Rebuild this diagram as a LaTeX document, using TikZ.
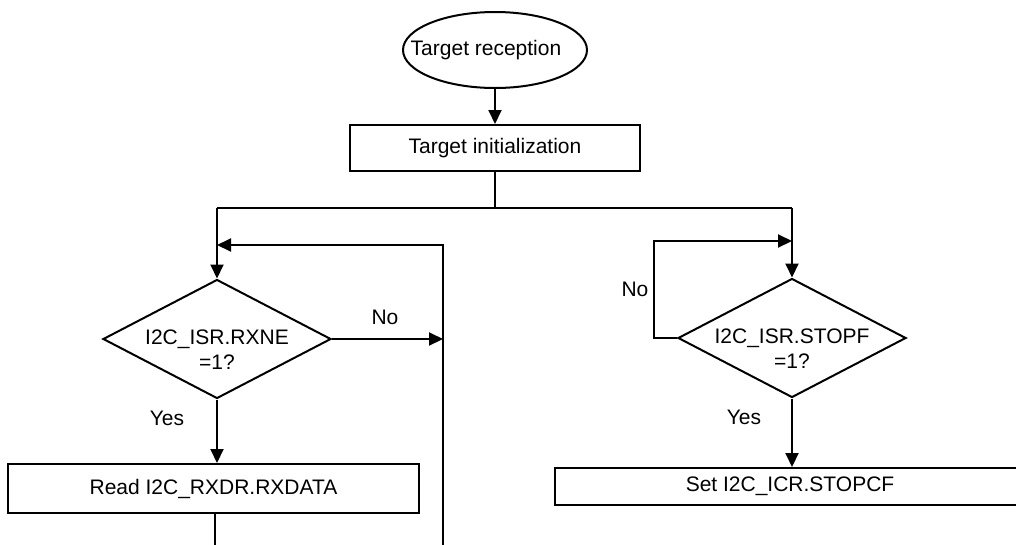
\documentclass[tikz,border=0pt]{standalone}
\usepackage{fontspec}
\setmainfont{Liberation Sans}
\usetikzlibrary{shapes.geometric,arrows.meta}
\begin{document}
\begin{tikzpicture}[x=1pt,y=-1pt,
  every node/.style={font=\fontsize{21}{25}\selectfont},
  ln/.style={line width=2pt},
  arr/.style={ln,-{Triangle[length=14pt,width=13pt]}},
  procbox/.style={draw,line width=2pt,rectangle,inner sep=0pt},
  decis/.style={draw,line width=2pt,diamond,inner sep=0pt,minimum width=228pt,minimum height=119pt},
  lbl/.style={inner sep=0pt}]
\useasboundingbox (0,0) rectangle (1016,544);
\clip (0,0) rectangle (1016,544);
\node[draw,ellipse,line width=2pt,minimum width=184pt,minimum height=76pt,inner sep=0pt,
  label={[inner sep=0pt,xshift=-9pt]center:Target reception}] (start) at (495,50) {};
\node[procbox,minimum width=290pt,minimum height=46pt] (init) at (495,148) {Target initialization};
\node[decis,label={[align=center,yshift=-11pt]center:I2C\_ISR.RXNE\\=1?}] (d1) at (217,339) {};
\node[decis,label={[align=center,yshift=-11pt]center:I2C\_ISR.STOPF\\=1?}] (d2) at (792,338) {};
\node[procbox,minimum width=411pt,minimum height=49pt] (read) at (213.5,488.5) {Read I2C\_RXDR.RXDATA};
\node[procbox,minimum width=470pt,minimum height=37pt] (set) at (790,486.5) {Set I2C\_ICR.STOPCF};
\node[lbl] (no1) at (385,317) {No};
\node[lbl] (yes1) at (167,418) {Yes};
\node[lbl] (no2) at (635,289) {No};
\node[lbl] (yes2) at (744,417) {Yes};
\coordinate (split) at (495,208);
\coordinate (sl) at (217,208);
\coordinate (sr) at (792,208);
\coordinate (loopL) at (443,245);
\coordinate (loopLb) at (443,550);
\coordinate (readb) at (215,550);
\coordinate (loopR) at (654,241);
\draw[arr] (start) -- (init);
\draw[ln] (init.south) -- (split);
\draw[ln] (sl) -- (sr);
\draw[arr] (sl) -- (d1.north);
\draw[arr] (sr) -- (d2.north);
\draw[arr] (loopLb) -- (loopL) -- (loopL -| d1.north);
\draw[arr] (d1.east) -- (d1.east -| loopL);
\draw[arr] (d1.south) -- (read.north -| d1.south);
\draw[ln] (read.south -| readb) -- (readb);
\draw[arr] (d2.west) -- (d2.west -| loopR) -- (loopR) -- (loopR -| d2.north);
\draw[arr] (d2.south) -- (set.north -| d2.south);
\end{tikzpicture}
\end{document}
